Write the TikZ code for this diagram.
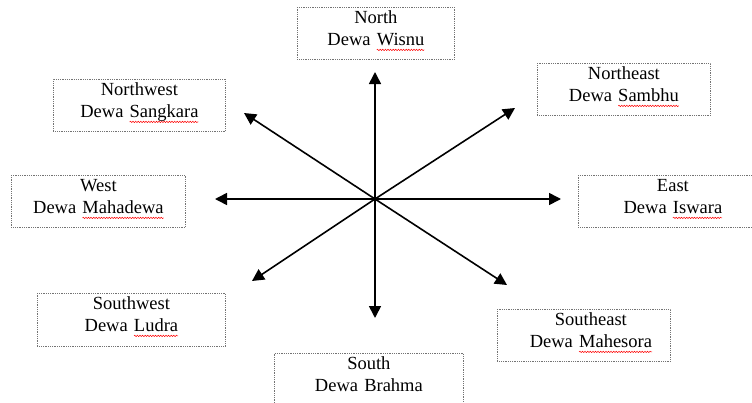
\documentclass[tikz,border=0pt]{standalone}
\usepackage{fontspec}
\setmainfont{Liberation Serif}
\usetikzlibrary{arrows.meta,decorations.pathmorphing}

% red wavy underline (spell check marks)
\newsavebox\typobox
\newcommand\typo[1]{\sbox\typobox{#1}%
  \tikz[overlay, baseline=0pt]\draw[red, solid, line width=0.5pt, decorate,
    decoration={snake, amplitude=0.7pt, segment length=2.6pt}]
    (0pt,-4pt) -- (\wd\typobox,-4pt);%
  \usebox\typobox}

\begin{document}
\begin{tikzpicture}[
    x=1pt, y=-1pt,
    box/.style={draw=black!55, densely dotted, line width=0.8pt, anchor=north west,
      inner sep=0pt, align=center, text height=16.5pt, text depth=35.5pt,
      font=\fontsize{18.5}{22}\selectfont},
    spoke/.style={-{Triangle[length=12pt,width=12pt]}, line width=1.6pt, draw=black},
]
\useasboundingbox (0,0) rectangle (752,402);

% Direction boxes
\node[box, text width=157pt] (north) at (297,7) {North\\Dewa \typo{Wisnu}};
\node[box, text width=173pt] (northeast) at (537,63) {Northeast\\Dewa \typo{Sambhu}};
\node[box, text width=175pt] (east) at (578,175) {\hspace*{14pt}East\\\hspace*{14pt}Dewa \typo{Iswara}};
\node[box, text width=173pt] (southeast) at (497,309) {\hspace*{14pt}Southeast\\\hspace*{14pt}Dewa \typo{Mahesora}};
\node[box, text width=189pt] (south) at (274,353) {South\\Dewa Brahma};
\node[box, text width=188pt, text depth=36.5pt] (southwest) at (37,293) {Southwest\\Dewa \typo{Ludra}};
\node[box, text width=174pt] (west) at (11,175) {West\\Dewa \typo{Mahadewa}};
\node[box, text width=172pt] (northwest) at (53,79) {Northwest\\Dewa \typo{Sangkara}};

% Arrow ends
\coordinate (centre) at (375,199);
\coordinate (tipN) at (375,72);
\coordinate (tipNE) at (515,108);
\coordinate (tipE) at (561,199);
\coordinate (tipSE) at (507,285);
\coordinate (tipS) at (375,318);
\coordinate (tipSW) at (252,281);
\coordinate (tipW) at (215,199);
\coordinate (tipNW) at (244,113);

% Compass arrows
\foreach \t in {tipN,tipNE,tipE,tipSE,tipS,tipSW,tipW,tipNW}
  \draw[spoke] (centre) -- (\t);

\end{tikzpicture}
\end{document}
